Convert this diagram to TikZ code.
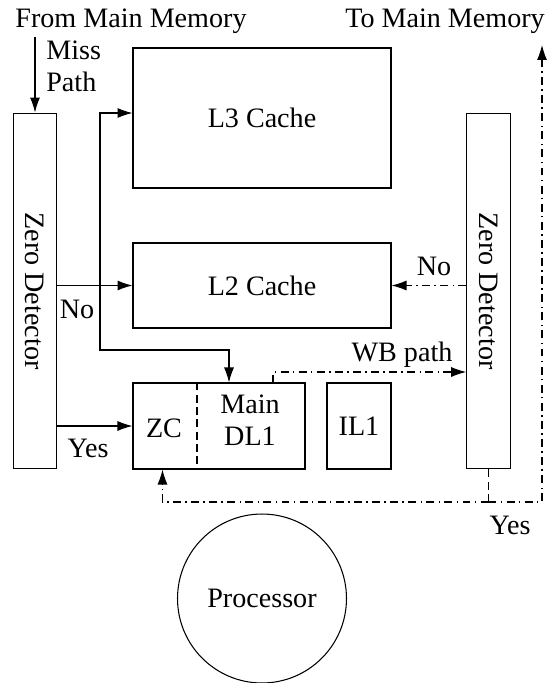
\documentclass[tikz,border=0pt]{standalone}
\usepackage{fontspec}
\setmainfont{Liberation Serif}
\usepackage{graphicx}
\usetikzlibrary{arrows.meta,positioning,calc}
\tikzset{
  % Cache and L1 boxes
  blk/.style={draw,line width=0.6pt,align=center,inner sep=1pt},
  % Zero detectors (tall boxes, text turned)
  zdet/.style={draw,line width=0.6pt,minimum width=0.87cm,minimum height=7.12cm,
               inner sep=0pt},
  % Connectors
  fl/.style={-{Latex[length=3mm,width=2mm]},line width=0.6pt},
  dfl/.style={-{Latex[length=3mm,width=2mm]},line width=0.6pt,
              dash pattern=on 4.5pt off 2.5pt on 0.8pt off 2.5pt},
  dln/.style={line width=0.6pt,dash pattern=on 4.5pt off 2.5pt},
  % Labels
  lb/.style={inner sep=0pt,anchor=base}
}

\begin{document}
\begin{tikzpicture}[x=0.02cm,y=-0.02cm,font=\fontsize{16}{18}\selectfont]
  \useasboundingbox (0,0) rectangle (548,683);

  % --- Nodes ---
  \node[zdet] (zdl) at (35,291)    {\rotatebox{-90}{Zero Detector}};
  \node[zdet] (zdr) at (488.5,291) {\rotatebox{-90}{Zero Detector}};

  \node[blk,minimum width=5.16cm,minimum height=2.8cm]  (l3)  at (262,118)   {L3 Cache};
  \node[blk,minimum width=5.16cm,minimum height=1.7cm]  (l2)  at (262,285.5) {L2 Cache};
  \node[blk,minimum width=3.44cm,minimum height=1.72cm] (dl1) at (219,426)   {};
  \node[blk,minimum width=1.28cm,minimum height=1.72cm] (il1) at (359,426)   {IL1};

  \node[draw,circle,line width=0.6pt,minimum size=3.38cm] (proc) at (262,598.5) {Processor};

  % DL1 split: zero cache | main part
  \coordinate (zcdiv) at (197,426);
  \draw[dln] (zcdiv |- dl1.north) -- (zcdiv |- dl1.south);
  \node (zc) at (164,428) {ZC};
  \node[align=center,inner sep=0pt] (mdl1) at (250,420) {Main\\DL1};

  % --- Labels ---
  \node[lb] (from) at (131,27) {From Main Memory};
  \node[lb] (to)   at (445,27) {To Main Memory};
  \node[inner sep=0pt,align=left,anchor=base west] (miss) at (46,91) {Miss\\Path};
  \node[lb] (nol)  at (77,318)  {No};
  \node[lb] (yesl) at (88,457)  {Yes};
  \node[lb] (nor)  at (434,275) {No};
  \node[lb] (wb)   at (402,361) {WB path};
  \node[lb] (yesr) at (510,534) {Yes};

  % --- Miss path into left detector ---
  \coordinate (missin) at (35,37);
  \draw[fl] (missin) -- (zdl.north);

  % --- Left detector: No -> L2, and up/down the bus to L3 and DL1 ---
  \coordinate (bus)  at (100,285.5);
  \coordinate (busT) at (100,113);
  \coordinate (busB) at (100,350);
  \coordinate (mainin) at ($(dl1.north)+(10,0)$);
  \draw[fl] (zdl.east |- l2.west) -- (l2.west);
  \draw[fl] (bus) -- (busT) -- (busT -| l3.west);
  \draw[fl] (bus) -- (busB) -| (mainin);

  % Yes -> ZC
  \draw[fl] (zdl.east |- dl1.west) -- (dl1.west);

  % --- Right detector ---
  \draw[dfl] (zdr.west |- l2.east) -- (l2.east);

  % WB path out of DL1
  \coordinate (wbout) at ($(dl1.north)+(54,0)$);
  \coordinate (wbrow) at (0,372);
  \draw[dfl] (wbout) |- (wbrow -| zdr.west);

  % Yes: back to ZC, and out to main memory
  \coordinate (yesrow) at (0,502);
  \coordinate (memout) at (542,45);
  \coordinate (zcin)   at ($(dl1.south west)+(30,0)$);
  \draw[dln] (zdr.south) -- (zdr.south |- yesrow);
  \draw[dfl] (zdr.south |- yesrow) -- (memout |- yesrow) -- (memout);
  \draw[dfl] (zdr.south |- yesrow) -| (zcin);
\end{tikzpicture}
\end{document}
